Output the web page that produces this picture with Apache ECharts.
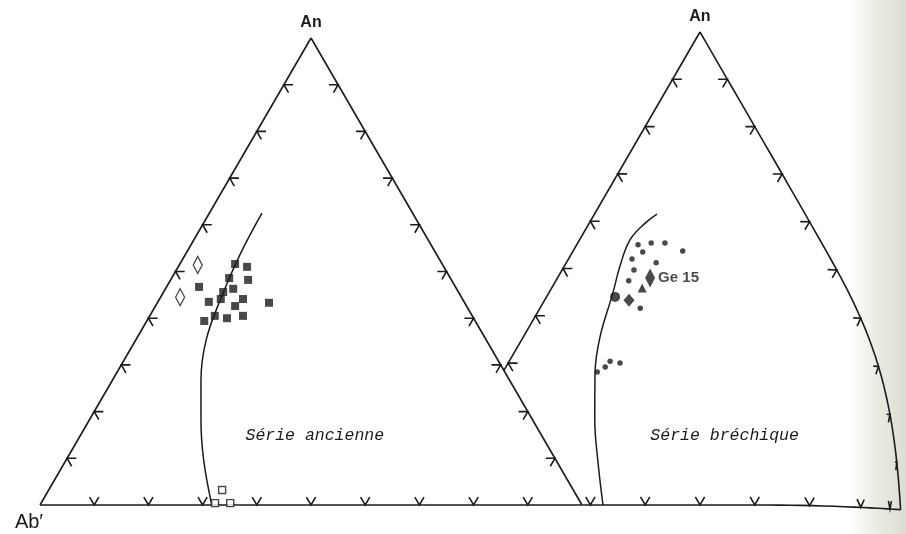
<!DOCTYPE html>
<html>
<head>
<meta charset="utf-8">
<script src="https://cdn.jsdelivr.net/npm/echarts@6/dist/echarts.min.js"></script>
<style>
html, body { margin: 0; padding: 0; background: #fff; }
#chart { width: 906px; height: 534px; }
</style>
</head>
<body>
<div id="chart"></div>
<script>
// every point is a composition: [An %, Or %] (Ab' = rest)
const ancSquares = [
	[51.6, 10.2], [51.0, 12.7], [48.6, 10.6], [48.2, 14.3], [46.7, 6.0],
	[46.3, 12.5], [45.6, 11.0], [44.1, 11.3], [43.5, 9.4], [44.1, 15.4],
	[42.6, 14.7], [43.3, 20.6], [40.5, 12.0], [40.0, 14.5], [40.5, 17.2],
	[39.4, 10.6]
]
const ancDiamonds = [[51.4, 3.4], [44.5, 3.6]]
const ancOpenSquares = [[3.2, 32.0], [0.4, 32.1], [0.4, 34.9]]
const ancCurve = [
	[62.5, 9.7], [53.5, 10.1], [43.9, 11.3], [35.3, 13.0], [26.8, 16.3],
	[18.2, 20.6], [9.6, 25.4], [0, 31.7]
]

const brecDots = [
	[55.0, 11.2], [55.4, 13.4], [55.4, 15.9], [53.7, 20.0], [53.5, 12.8],
	[52.0, 11.6], [51.2, 16.4], [49.7, 13.1], [47.4, 13.3], [41.6, 18.3],
	[28.1, 17.2], [29.2, 18.1], [30.4, 18.4], [30.0, 20.4]
]
const brecGe15 = [[48.0, 16.9]]
const brecTriangles = [[45.9, 16.5]]
const brecBlobs = [[43.3, 15.4]]
const brecBigDots = [[44.0, 12.5]]
const brecCurve = [
	[61.5, 11.4], [59.6, 10.2], [56.0, 9.2], [50.3, 10.2], [44.8, 11.7],
	[35.5, 14.0], [27.9, 16.9], [18.0, 21.8], [9.5, 26.6], [0, 32.3]
]

const tickValues = [10, 20, 30, 40, 50, 60, 70, 80, 90]
const apexLabel = 'An'
const leftLabel = 'Ab\u2032'
const seriesNames = ['Série ancienne', 'Série bréchique']
const sampleName = 'Ge 15'

const INK = '#1b1b1b'
const D = 1.7

function toXY(p) {
	return [p[1] + p[0] / 2, p[0]]
}

// the page curves into the binding on the right
function bend(c) {
	const x0 = 820
	let nx = c[0]
	if (nx > x0) nx = x0 + 85 * Math.tanh((nx - x0) / 85)
	const t = Math.max(0, (nx - 760) / 145)
	return [nx, c[1] + 5 * t * t]
}

function px(api, p, bent) {
	const c = api.coord(toXY(p))
	return bent ? bend(c) : c
}

function line(api, pts, bent) {
	return {
		type: 'polyline',
		shape: { points: pts.map(p => px(api, p, bent)) },
		style: { stroke: INK, lineWidth: 1.6, fill: null }
	}
}

function text(pos, str, font, align) {
	return {
		type: 'text',
		x: pos[0],
		y: pos[1],
		style: { text: str, fill: INK, font: font, align: align || 'center', verticalAlign: 'middle' }
	}
}

function frameLeft(params, api) {
	const kids = [
		line(api, [[100, 0], [0, 0]]),
		line(api, [[100, 0], [0, 100]]),
		line(api, [[0, 0], [0, 100]])
	]
	tickValues.forEach(k => {
		kids.push(line(api, [[k, D], [k, 0], [k - D, D]]))
		kids.push(line(api, [[k, 100 - k - D], [k, 100 - k], [k - D, 100 - k]]))
		kids.push(line(api, [[D, k - D], [0, k], [D, k]]))
	})
	const top = px(api, [100, 0])
	const bl = px(api, [0, 0])
	const mid = api.coord([50.7, 14.8])
	kids.push(text([top[0], top[1] - 15], apexLabel, '600 16px "Liberation Sans"'))
	kids.push(text([bl[0] - 11, bl[1] + 17], leftLabel, '20px "Liberation Sans"'))
	kids.push(text(mid, seriesNames[0], 'italic 16.5px "Liberation Mono"'))
	return { type: 'group', children: kids }
}

function frameRight(params, api) {
	const redge = []
	for (let a = 100; a >= 0; a -= 2) redge.push([a, 100 - a])
	const base = []
	for (let o = 28.5; o <= 100; o += 2) base.push([0, o])
	base.push([0, 100])
	const kids = [
		line(api, [[100, 0], [28.4, 0]], true),
		line(api, redge, true),
		line(api, base, true)
	]
	tickValues.forEach(k => {
		if (k >= 30) kids.push(line(api, [[k, D], [k, 0], [k - D, D]], true))
		kids.push(line(api, [[k, 100 - k - D], [k, 100 - k], [k - D, 100 - k]], true))
		if (k >= 30) kids.push(line(api, [[D, k - D], [0, k], [D, k]], true))
	})
	const top = px(api, [100, 0], true)
	const mid = api.coord([54.5, 14.6])
	kids.push(text([top[0], top[1] - 15], apexLabel, '600 16px "Liberation Sans"'))
	kids.push(text(mid, seriesNames[1], 'italic 16.5px "Liberation Mono"'))
	return { type: 'group', children: kids }
}

// the right diagram runs past the page edge: its grid stops at the border,
// so its x range is cut to what fits (5.48 px per %)
const axisX0 = { type: 'value', min: 0, max: 100, show: false, gridIndex: 0 }
const axisX1 = { type: 'value', min: 0, max: 87.6, show: false, gridIndex: 1 }
const axisY0 = { type: 'value', min: 0, max: 100, show: false, gridIndex: 0 }
const axisY1 = { type: 'value', min: 0, max: 100, show: false, gridIndex: 1 }

function pts(list, idx, symbol, size, filled, extra) {
	return Object.assign({
		type: 'scatter',
		xAxisIndex: idx,
		yAxisIndex: idx,
		symbol: symbol,
		symbolSize: size,
		itemStyle: filled
			? { color: INK }
			: { color: '#fff', borderColor: INK, borderWidth: 1.4 },
		data: list.map(toXY),
		z: 5,
		silent: true
	}, extra || {})
}

function curve(list, idx) {
	return {
		type: 'line',
		xAxisIndex: idx,
		yAxisIndex: idx,
		smooth: 0.4,
		symbol: 'none',
		lineStyle: { color: INK, width: 1.5 },
		data: list.map(toXY),
		z: 3,
		silent: true
	}
}

const chart = echarts.init(document.getElementById('chart'))
chart.setOption({
	backgroundColor: '#fff',
	animation: false,
	graphic: [
		{
			type: 'rect',
			left: 850,
			top: 0,
			shape: { width: 56, height: 534 },
			style: {
				fill: new echarts.graphic.LinearGradient(0, 0, 1, 0, [
					{ offset: 0, color: 'rgba(226,226,216,0)' },
					{ offset: 0.5, color: 'rgba(226,226,216,0.7)' },
					{ offset: 1, color: '#dcdcd2' }
				])
			},
			z: -10
		}
	],
	grid: [
		{ left: 40, top: 38, width: 542, height: 467 },
		{ left: 426, top: 32, right: 0, height: 473 }
	],
	xAxis: [axisX0, axisX1],
	yAxis: [axisY0, axisY1],
	series: [
		{ type: 'custom', xAxisIndex: 0, yAxisIndex: 0, renderItem: frameLeft, data: [[0, 0]], silent: true, z: 2 },
		{ type: 'custom', xAxisIndex: 1, yAxisIndex: 1, renderItem: frameRight, data: [[0, 0]], silent: true, z: 2, clip: false },
		curve(ancCurve, 0),
		curve(brecCurve, 1),
		pts(ancSquares, 0, 'rect', 8, true),
		pts(ancDiamonds, 0, 'diamond', [9, 17], false),
		pts(ancOpenSquares, 0, 'rect', 7, false),
		pts(brecDots, 1, 'circle', 5.5, true),
		pts(brecTriangles, 1, 'triangle', 9, true),
		pts(brecBlobs, 1, 'diamond', [11, 13], true),
		pts(brecBigDots, 1, 'circle', 10, true),
		pts(brecGe15, 1, 'diamond', [10, 19], true, {
			label: {
				show: true,
				position: 'right',
				distance: 3,
				formatter: sampleName,
				color: INK,
				fontSize: 15,
				fontWeight: 'bold',
				fontFamily: 'Liberation Sans'
			}
		})
	]
})
</script>
</body>
</html>
